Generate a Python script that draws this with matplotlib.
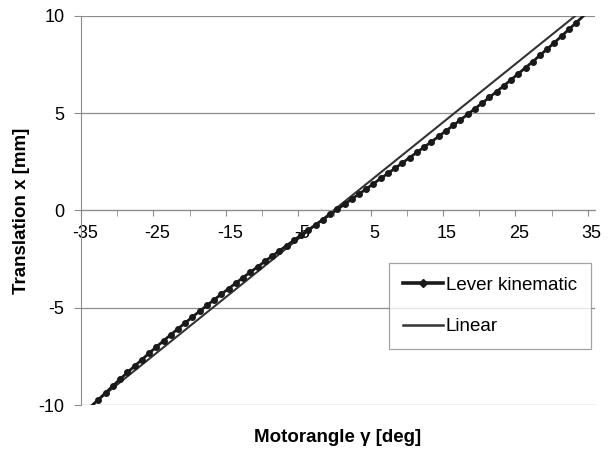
import matplotlib
matplotlib.use("Agg")
import matplotlib.pyplot as plt
import matplotlib.transforms as mtransforms
from matplotlib.lines import Line2D

plt.rcParams['font.family'] = ['Liberation Sans', 'DejaVu Sans']

# motor angle [deg] and translation [mm]
lever_angle = [-33.6, -32.6, -31.6, -30.6, -29.6, -28.6, -27.6, -26.6, -25.6, -24.6,
               -23.6, -22.6, -21.6, -20.6, -19.6, -18.6, -17.6, -16.6, -15.6, -14.6,
               -13.6, -12.6, -11.6, -10.6, -9.6, -8.6, -7.6, -6.6, -5.6, -4.6,
               -3.6, -2.6, -1.6, -0.6, 0.4, 1.4, 2.4, 3.4, 4.4, 5.4,
               6.4, 7.4, 8.4, 9.4, 10.4, 11.4, 12.4, 13.4, 14.4, 15.4,
               16.4, 17.4, 18.4, 19.4, 20.4, 21.4, 22.4, 23.4, 24.4, 25.4,
               26.4, 27.4, 28.4, 29.4, 30.4, 31.4, 32.4, 33.4, 34.4]
lever_trans = [-10.08, -9.72, -9.37, -9.02, -8.67, -8.33, -8.00, -7.67, -7.34, -7.02,
               -6.70, -6.39, -6.08, -5.78, -5.47, -5.18, -4.88, -4.59, -4.30, -4.02,
               -3.73, -3.45, -3.17, -2.90, -2.62, -2.35, -2.08, -1.81, -1.54, -1.27,
               -1.01, -0.74, -0.48, -0.21, 0.05, 0.31, 0.58, 0.84, 1.10, 1.37,
               1.64, 1.90, 2.17, 2.44, 2.71, 2.98, 3.25, 3.52, 3.80, 4.08,
               4.36, 4.64, 4.93, 5.22, 5.51, 5.80, 6.10, 6.40, 6.71, 7.02,
               7.33, 7.64, 7.97, 8.29, 8.62, 8.96, 9.30, 9.64, 9.99]

linear_angle = [-33.5, 33.3]
linear_trans = [-10, 10]

xticks = [-35, -25, -15, -5, 5, 15, 25, 35]
yticks = [-10, -5, 0, 5, 10]

fig = plt.figure(figsize=(6.13, 4.49), dpi=100)
ax = fig.add_axes([81/613, 1-405/449, (595-81)/613, (405-15.7)/449])

ax.plot(lever_angle, lever_trans, color='#1a1a1a', lw=2.0, marker='o', ms=4.0,
        markevery=slice(1, -1), zorder=3)
ax.plot(linear_angle, linear_trans, color='#333333', lw=1.5, zorder=2)

ax.set_xlim(-35, 36)
ax.set_ylim(-10, 10)
ax.set_xticks(xticks)
ax.set_xticklabels([str(v) for v in xticks])
ax.set_xticks(range(-35, 36, 5), minor=True)
ax.set_yticks(yticks)
ax.set_yticklabels([str(v) for v in yticks])

ax.grid(axis='y', color='#8c8c8c', lw=0.9)
ax.set_axisbelow(True)
for s in ['top', 'right']:
    ax.spines[s].set_visible(False)
ax.spines['left'].set_color('#8c8c8c')
ax.spines['bottom'].set_position(('data', 0))
ax.spines['bottom'].set_color('#8c8c8c')
ax.tick_params(axis='x', which='both', direction='out', length=4, color='#8c8c8c',
               labelsize=13, pad=6.5)
ax.tick_params(axis='y', direction='out', length=5, color='#8c8c8c', labelsize=13, pad=7)

# Excel puts the category labels a little right of the tick
shift = mtransforms.ScaledTranslation(4/100, 0, fig.dpi_scale_trans)
for lab in ax.get_xticklabels():
    lab.set_transform(lab.get_transform() + shift)

ax.set_xlabel('Motorangle γ [deg]', fontsize=13.5, fontweight='bold', va='center')
ax.xaxis.set_label_coords(0.5, -32/389.3)
ax.set_ylabel('Translation x [mm]', fontsize=13.5, fontweight='bold', va='center')
ax.yaxis.set_label_coords(-59.3/514, 1-(211-15.7)/389.3)

handles = [Line2D([], [], color='#1a1a1a', lw=2.6, marker='D', ms=4),
           Line2D([], [], color='#333333', lw=1.8)]
leg = ax.legend(handles, ['Lever kinematic', 'Linear'],
                loc='upper right', bbox_to_anchor=(590.7/613, 1-262.7/449),
                bbox_transform=fig.transFigure,
                fontsize=13.5, frameon=True, fancybox=False, edgecolor='#8c8c8c',
                handlelength=2.1, handletextpad=0.15, borderpad=0.75, labelspacing=1.3,
                borderaxespad=0)
leg.get_frame().set_linewidth(0.9)

fig.savefig('out.png', dpi=100)
